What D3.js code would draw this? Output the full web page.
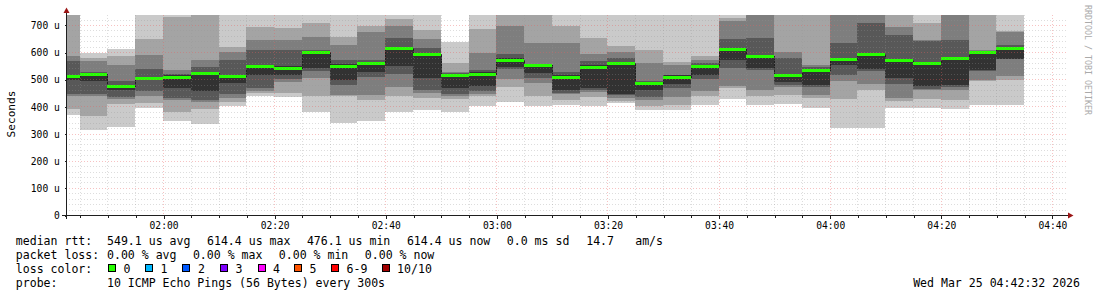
<!DOCTYPE html>
<html>
<head>
<meta charset="utf-8">
<script src="https://cdn.jsdelivr.net/npm/d3@7"></script>
<style>
  body { margin: 0; background: #fff; }
  text { font-family: "DejaVu Sans Mono", monospace; fill: #000; }
</style>
</head>
<body>
<svg width="1097" height="297"></svg>
<script>
// --- data (5 minute steps, end time of each step) ---
const stepEnds = ['01:45', '01:50', '01:55', '02:00', '02:05', '02:10', '02:15', '02:20', '02:25',
  '02:30', '02:35', '02:40', '02:45', '02:50', '02:55', '03:00', '03:05', '03:10', '03:15',
  '03:20', '03:25', '03:30', '03:35', '03:40', '03:45', '03:50', '03:55', '04:00', '04:05',
  '04:10', '04:15', '04:20', '04:25', '04:30', '04:35'];

// median rtt per step (us)
const medians = [513, 520, 476, 503, 508, 524, 513, 550, 543, 600, 549, 560, 614, 593, 514, 521,
  572, 551, 510, 546, 560, 487, 510, 548, 612, 584, 514, 535, 575, 593, 572, 559, 578, 600, 614];

// the 10 sorted ping rtts per step (us); values above ~737 are off the chart
const pings = [
  [369, 390, 439, 447, 496, 515, 569, 586, 750, 760],
  [312, 366, 439, 445, 492, 522, 528, 569, 580, 598],
  [326, 408, 428, 434, 459, 480, 495, 553, 584, 611],
  [396, 412, 437, 455, 496, 506, 538, 590, 648, 760],
  [345, 378, 424, 431, 467, 517, 520, 535, 728, 760],
  [336, 391, 418, 424, 455, 527, 545, 571, 750, 760],
  [400, 415, 430, 447, 486, 516, 571, 602, 618, 760],
  [439, 448, 455, 467, 516, 553, 608, 645, 694, 760],
  [434, 449, 490, 500, 516, 548, 608, 645, 690, 760],
  [381, 439, 505, 530, 540, 602, 608, 657, 707, 760],
  [339, 438, 443, 480, 498, 555, 571, 627, 657, 760],
  [348, 424, 443, 510, 528, 565, 571, 676, 696, 760],
  [378, 440, 471, 520, 549, 616, 651, 696, 722, 760],
  [385, 430, 448, 461, 504, 598, 614, 650, 682, 760],
  [381, 427, 437, 447, 467, 518, 522, 525, 559, 639],
  [400, 437, 445, 455, 476, 525, 535, 598, 685, 760],
  [415, 471, 500, 537, 545, 577, 593, 696, 750, 760],
  [400, 439, 488, 505, 523, 553, 556, 633, 750, 760],
  [406, 424, 445, 451, 461, 514, 525, 635, 696, 760],
  [400, 434, 452, 460, 467, 553, 569, 593, 651, 760],
  [412, 420, 430, 443, 447, 565, 580, 602, 623, 760],
  [388, 400, 422, 434, 461, 490, 492, 559, 608, 760],
  [388, 406, 434, 467, 483, 514, 516, 553, 562, 760],
  [406, 439, 455, 500, 516, 550, 560, 571, 584, 760],
  [427, 467, 476, 541, 571, 616, 647, 715, 724, 760],
  [406, 439, 461, 535, 541, 586, 651, 745, 750, 760],
  [410, 443, 470, 480, 490, 516, 578, 602, 750, 760],
  [394, 431, 443, 470, 480, 538, 545, 553, 750, 760],
  [320, 427, 492, 516, 553, 580, 635, 745, 750, 760],
  [320, 461, 483, 530, 537, 598, 708, 745, 750, 760],
  [394, 420, 431, 483, 504, 575, 663, 694, 750, 760],
  [394, 427, 460, 464, 476, 560, 640, 643, 706, 760],
  [391, 424, 460, 472, 480, 580, 645, 745, 750, 760],
  [406, 494, 498, 530, 535, 602, 605, 608, 750, 760],
  [406, 498, 513, 573, 575, 617, 627, 676, 678, 760]
];

const yTicks = [0, 100, 200, 300, 400, 500, 600, 700];
const lossLabels = ['0', '1', '2', '3', '4', '5', '6-9', '10/10'];
const lossColors = ['#26ff00', '#00b8ff', '#0059ff', '#7e00ff', '#ff00ff', '#ff5500', '#ff0000', '#a10000'];
const smokeGreys = ['#cacaca', '#a4a4a4', '#7e7e7e', '#585858', '#323232'];

// ---

const SVG = d3.select('svg');
const parse = d3.timeParse('%Y-%m-%d %H:%M:%S');
const day = '2026-03-25 ';

const x = d3.scaleTime()
  .domain([parse(day + '01:42:32'), parse(day + '04:42:32')])
  .range([66, 1066]);
const y = d3.scaleLinear().domain([0, 736.84]).range([215, 15]);

const steps = stepEnds.map((s, i) => {
  const end = parse(day + s + ':00');
  return { start: d3.timeMinute.offset(end, -5), end: end, p: pings[i], med: medians[i] };
});

SVG.append('clipPath').attr('id', 'plot')
  .append('rect').attr('x', 66).attr('y', 15).attr('width', 1000).attr('height', 200);

const plot = SVG.append('g').attr('clip-path', 'url(#plot)').attr('shape-rendering', 'crispEdges');

const px = t => Math.round(x(t));
const py = v => Math.round(y(v));

// smoke: outer pair first, darker inner pairs on top
smokeGreys.forEach((col, k) => {
  plot.append('g').selectAll('rect').data(steps).join('rect')
    .attr('x', d => px(d.start))
    .attr('width', d => px(d.end) - px(d.start))
    .attr('y', d => py(d.p[9 - k]))
    .attr('height', d => py(d.p[k]) - py(d.p[9 - k]))
    .attr('fill', col);
});

// median step line
const medPts = [];
steps.forEach(d => {
  medPts.push([px(d.start), py(d.med) + 0.5]);
  medPts.push([px(d.end), py(d.med) + 0.5]);
});
plot.append('path').attr('d', d3.line()(medPts))
  .attr('fill', 'none').attr('stroke', '#202020').attr('stroke-width', 1);

// median coloured by loss (all 0 loss here)
plot.append('g').selectAll('rect').data(steps).join('rect')
  .attr('x', d => px(d.start))
  .attr('width', d => px(d.end) - px(d.start))
  .attr('y', d => py(d.med) - 1)
  .attr('height', 3)
  .attr('fill', lossColors[0]);

// grid (drawn over the smoke like rrdtool)
const grid = SVG.append('g').attr('shape-rendering', 'crispEdges');
const minorY = d3.range(20, 737, 20).filter(v => v % 100 !== 0);
const minorX = x.ticks(d3.timeMinute.every(5)).filter(t => t.getMinutes() % 20 !== 0);
const majorX = x.ticks(d3.timeMinute.every(20));
const GRID = 'rgba(150,150,150,0.32)';
const MGRID = 'rgba(235,95,95,0.38)';

grid.selectAll('.hmin').data(minorY).join('line')
  .attr('x1', 66).attr('x2', 1066)
  .attr('y1', d => py(d) + 0.5).attr('y2', d => py(d) + 0.5)
  .attr('stroke', GRID).attr('stroke-dasharray', '1,2');
grid.selectAll('.vmin').data(minorX).join('line')
  .attr('x1', d => px(d) + 0.5).attr('x2', d => px(d) + 0.5)
  .attr('y1', 15).attr('y2', 215)
  .attr('stroke', GRID).attr('stroke-dasharray', '1,2');
grid.selectAll('.hmaj').data(yTicks.slice(1)).join('line')
  .attr('x1', 66).attr('x2', 1066)
  .attr('y1', d => py(d) + 0.5).attr('y2', d => py(d) + 0.5)
  .attr('stroke', MGRID).attr('stroke-dasharray', '1,2');
grid.selectAll('.vmaj').data(majorX).join('line')
  .attr('x1', d => px(d) + 0.5).attr('x2', d => px(d) + 0.5)
  .attr('y1', 15).attr('y2', 215)
  .attr('stroke', MGRID).attr('stroke-dasharray', '1,2');

// axes
let xAxisMinor = d3.axisBottom(x).tickValues(minorX).tickSize(2).tickFormat('');
let xAxisMinorG = SVG.append('g').attr('transform', 'translate(0.5,215.5)');
xAxisMinor(xAxisMinorG);

let xAxis = d3.axisBottom(x).tickValues(majorX).tickSize(3).tickPadding(3.4)
  .tickFormat(d3.timeFormat('%H:%M'));
let xAxisG = SVG.append('g').attr('transform', 'translate(0.5,215.5)');
xAxis(xAxisG);

let yAxis = d3.axisLeft(y).tickValues(yTicks).tickSize(2).tickPadding(4.7)
  .tickFormat(d => d === 0 ? '0' : d + ' u');
let yAxisG = SVG.append('g').attr('transform', 'translate(66.5,0.5)');
yAxis(yAxisG);

[xAxisG, xAxisMinorG, yAxisG].forEach(g => {
  g.select('.domain').remove();
  g.selectAll('line').attr('stroke', '#1f1f1f').attr('shape-rendering', 'crispEdges');
  g.selectAll('text').style('font-family', '"DejaVu Sans Mono", monospace')
    .style('font-size', '9.65px').attr('fill', '#000');
});

SVG.append('line').attr('x1', 62).attr('x2', 1068).attr('y1', 215.5).attr('y2', 215.5)
  .attr('stroke', '#1f1f1f').attr('shape-rendering', 'crispEdges');
SVG.append('line').attr('x1', 66.5).attr('x2', 66.5).attr('y1', 219).attr('y2', 12)
  .attr('stroke', '#1f1f1f').attr('shape-rendering', 'crispEdges');
SVG.append('path').attr('d', 'M1068,212.5L1073.5,215.5L1068,218.5Z').attr('fill', '#9b1515');
SVG.append('path').attr('d', 'M63.5,13L66.5,7.5L69.5,13Z').attr('fill', '#9b1515');

// titles
SVG.append('text').attr('transform', 'translate(15,114) rotate(-90)')
  .attr('text-anchor', 'middle').style('font-size', '11.1px').text('Seconds');
SVG.append('text').attr('transform', 'translate(1085,5) rotate(90)')
  .style('font-size', '8.3px').style('fill', '#aaaaaa').text('RRDTOOL / TOBI OETIKER');

// legend
const leg = SVG.append('g').style('font-size', '11.55px');
const put = (tx, ty, s) => leg.append('text').attr('x', tx).attr('y', ty)
  .attr('xml:space', 'preserve').text(s);

put(15.8, 245, 'median rtt:');
put(107, 245, '549.1 us avg');
put(207, 245, '614.4 us max');
put(306.9, 245, '476.1 us min');
put(406.9, 245, '614.4 us now');
put(506.8, 245, '0.0 ms sd');
put(586.2, 245, '14.7');
put(635.2, 245, 'am/s');

put(15.8, 259, 'packet loss:');
put(107, 259, '0.00 % avg');
put(192.9, 259, '0.00 % max');
put(278.8, 259, '0.00 % min');
put(364.8, 259, '0.00 % now');

put(15.8, 273, 'loss color:');
const boxX = [108, 145, 182.4, 220, 257.5, 294, 331, 381.6];
lossLabels.forEach((lab, i) => {
  leg.append('rect').attr('x', Math.round(boxX[i]) + 0.5).attr('y', 264.5)
    .attr('width', 7).attr('height', 7)
    .attr('fill', lossColors[i]).attr('stroke', '#000').attr('shape-rendering', 'crispEdges');
  put(boxX[i] + 15.5, 273, lab);
});

put(15.8, 287, 'probe:');
put(107, 287, '10 ICMP Echo Pings (56 Bytes) every 300s');
leg.append('text').attr('x', 1080).attr('y', 287).attr('text-anchor', 'end')
  .text('Wed Mar 25 04:42:32 2026');
</script>
</body>
</html>
